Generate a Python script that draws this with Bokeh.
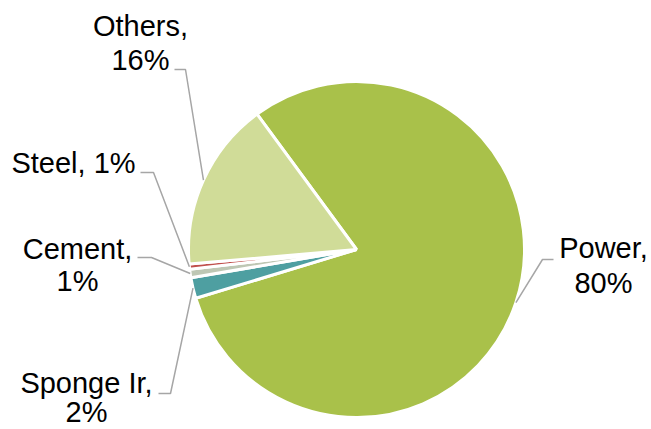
import math
from bokeh.plotting import figure
from bokeh.models import Range1d
from bokeh.embed import file_html
from bokeh.resources import INLINE
from bokeh.core.properties import value

# ---- data ----
categories = ["Power", "Sponge Ir", "Cement", "Steel", "Others"]
shares = [80.4, 2.0, 0.8, 0.5, 16.3]
colors = ["#A9C14A", "#4E9FA1", "#BEC7B4", "#C0504D", "#D0DC98"]

# ---- layout (page pixel coords; data y = 429 - page y) ----
W, H = 651, 429
CX, CY, R = 356, 249, 168
START_DEG = 126.3  # angle of first slice's leading edge (ccw from +x)
TEXT_DY = 10       # renderer places alphabetic baseline lower; compensate
# label: (center x, [baseline y of each line], leader start (x,y), elbow (x,y))
label_layout = {
    "Power":     (603, [257, 292], (553, 259), (542, 259)),
    "Sponge Ir": (86,  [392, 421], (158, 393), (170, 393)),
    "Cement":    (77,  [258, 290], (137, 257), (151, 257)),
    "Steel":     (73,  [172],      (140, 172), (153, 172)),
    "Others":    (140, [35, 69],   (174, 69),  (185, 69)),
}
label_lines = {
    "Power": ["Power,", "80%"],
    "Sponge Ir": ["Sponge Ir,", "2%"],
    "Cement": ["Cement,", "1%"],
    "Steel": ["Steel, 1%"],
    "Others": ["Others,", "16%"],
}

p = figure(width=W, height=H, output_backend="svg", toolbar_location=None,
           x_range=Range1d(0, W), y_range=Range1d(0, H),
           min_border=0, x_axis_type=None, y_axis_type=None)
p.grid.visible = False
p.outline_line_color = None
p.background_fill_color = "white"

total = sum(shares)
starts, ends, mids = [], [], []
cum = 0.0
for s in shares:
    a0 = math.radians(START_DEG) - cum / total * 2 * math.pi
    a1 = a0 - s / total * 2 * math.pi
    starts.append(a0)
    ends.append(a1)
    mids.append((a0 + a1) / 2)
    cum += s

cyd = H - CY
p.wedge(x=[CX] * len(shares), y=[cyd] * len(shares), radius=R,
        start_angle=starts, end_angle=ends, direction="clock",
        fill_color=colors, line_color="white", line_width=3)

for cat, mid, s in zip(categories, mids, shares):
    cx, baselines, ls, el = label_layout[cat]
    ex = CX + R * math.cos(mid)
    ey = cyd + R * math.sin(mid)
    p.line([ls[0], el[0], ex], [H - ls[1], H - el[1], ey],
           line_color="#A6A6A6", line_width=1.5)
    lines = label_lines[cat]
    p.text(x=[cx] * len(lines), y=[H - (b - TEXT_DY) for b in baselines], text=lines,
           text_align="center", text_baseline="alphabetic",
           text_font=value("Liberation Sans"), text_font_size="29px",
           text_color="#000000")

open("out.html", "w").write(file_html(p, INLINE))
